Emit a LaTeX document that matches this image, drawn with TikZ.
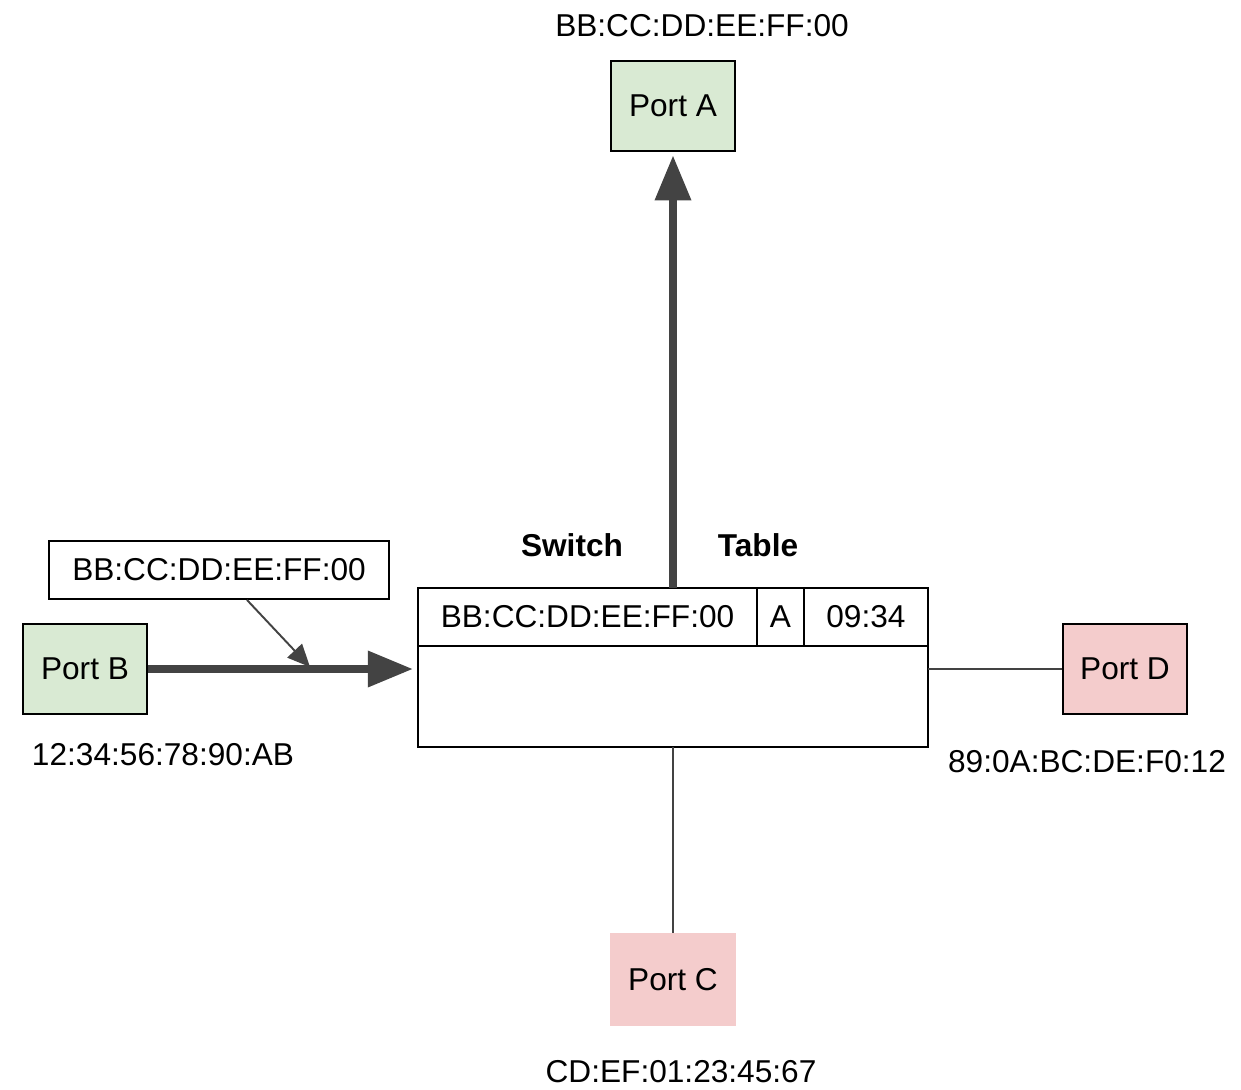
\documentclass[tikz,border=0pt]{standalone}
\usepackage{fontspec}
\setmainfont{Liberation Sans}
\usetikzlibrary{arrows.meta, positioning}
\definecolor{portgreen}{HTML}{D9EAD3}
\definecolor{portred}{HTML}{F4CCCC}
\definecolor{wire}{HTML}{434343}

\begin{document}
\begin{tikzpicture}[x=0.02cm, y=-0.02cm, >=Stealth,
  txt/.style={font=\fontsize{18}{20}\selectfont, inner sep=0pt},
  port/.style={txt, draw=black, line width=1.1pt, minimum width=2.48cm, minimum height=1.8cm},
  cell/.style={txt, draw=black, line width=1.1pt, outer sep=0pt, minimum height=1.16cm, anchor=north west},
  thin wire/.style={draw=wire, line width=1.1pt},
  thick wire/.style={draw=wire, line width=4pt, -{Triangle[length=0.9cm, width=0.7cm]}}]
  \useasboundingbox (0,0) rectangle (1241,1089);
  % ports
  \node[port, fill=portgreen] (portA) at (673,106) {Port A};
  \node[port, fill=portgreen] (portB) at (85,669) {Port B};
  \node[txt, fill=portred, minimum width=2.52cm, minimum height=1.86cm] (portC) at (673,979.5) {Port C};
  \node[port, fill=portred] (portD) at (1125,669) {Port D};
  \node[txt] (macA) at (702,26) {BB:CC:DD:EE:FF:00};
  \node[txt] (macB) at (163,755) {12:34:56:78:90:AB};
  \node[txt] (macC) at (681,1072) {CD:EF:01:23:45:67};
  \node[txt] (macD) at (1087,762) {89:0A:BC:DE:F0:12};
  % switch with its table
  \node[draw=black, line width=1.1pt, outer sep=0pt, minimum width=10.2cm, minimum height=3.18cm, inner sep=0pt] (switch) at (673,667.5) {};
  \node[cell, minimum width=6.78cm] (macCell) at (switch.north west) {BB:CC:DD:EE:FF:00};
  \node[cell, minimum width=0.94cm] (portCell) at (macCell.north east) {A};
  \node[cell, minimum width=2.48cm] (timeCell) at (portCell.north east) {09:34};
  \node[txt, font=\fontsize{18}{20}\selectfont\bfseries] (switchLbl) at (572,545) {Switch};
  \node[txt, font=\fontsize{18}{20}\selectfont\bfseries] (tableLbl) at (758,545) {Table};
  % frame on the wire
  \node[txt, draw=black, line width=1.1pt, minimum width=6.8cm, minimum height=1.16cm] (callout) at (219,570) {BB:CC:DD:EE:FF:00};
  \coordinate (calloutTip) at (310,667);
  % connectors
  \draw[thick wire, shorten >=3pt] (portB.east) -- (portB.east -| switch.west);
  \draw[thick wire, shorten >=2pt] (switch.north) -- (portA.south);
  \draw[thin wire] (switch.south) -- (portC.north);
  \draw[thin wire] (portD.west -| switch.east) -- (portD.west);
  \draw[thin wire, -{Triangle[length=0.45cm, width=0.4cm]}] ([xshift=0.56cm]callout.south) -- (calloutTip);
\end{tikzpicture}
\end{document}
